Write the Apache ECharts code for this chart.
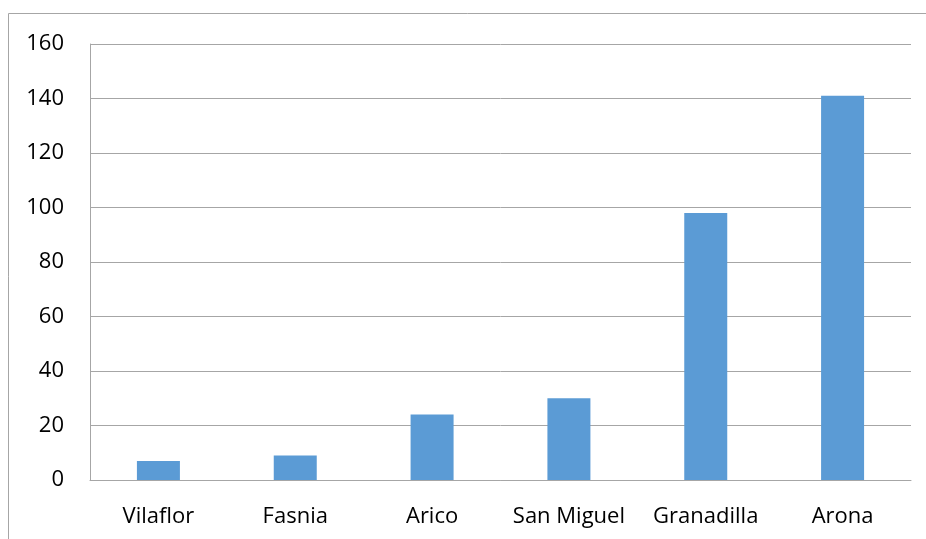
<!DOCTYPE html>
<html><head><meta charset="utf-8">
<script src="https://cdn.jsdelivr.net/npm/echarts@6/dist/echarts.min.js"></script>
<style>html,body{margin:0;padding:0;background:#fff}#c{width:926px;height:539px}</style>
</head><body><div id="c"></div>
<script>
const categories = ["Vilaflor","Fasnia","Arico","San Miguel","Granadilla","Arona"];
const values = [7, 9, 24, 30, 98, 141];
const yTicks = [0, 20, 40, 60, 80, 100, 120, 140, 160];

const chart = echarts.init(document.getElementById('c'));
chart.setOption({
  animation: false,
  graphic: [{
    type: 'rect', shape: {x: 8.5, y: 13.5, width: 1000, height: 1000},
    style: {fill: 'none', stroke: '#a6a6a6', lineWidth: 1}, silent: true
  }],
  grid: {left: 90, right: 15, top: 44, bottom: 59, containLabel: false},
  xAxis: {
    type: 'category', data: categories,
    axisLine: {show: true, lineStyle: {color: '#a6a6a6', width: 1}},
    axisTick: {show: false},
    axisLabel: {interval: 0, hideOverlap: false, color: '#000', fontSize: 22, fontFamily: 'Open Sans, Liberation Sans, sans-serif', margin: 26}
  },
  yAxis: {
    type: 'value', min: yTicks[0], max: yTicks[yTicks.length-1], interval: 20,
    axisLine: {show: true, lineStyle: {color: '#a6a6a6', width: 1}},
    axisTick: {show: false},
    splitLine: {lineStyle: {color: '#a6a6a6', width: 1}},
    axisLabel: {color: '#000', fontSize: 22, fontFamily: 'Open Sans, Liberation Sans, sans-serif', margin: 26, padding: [2, 0, 0, 0]}
  },
  series: [{
    type: 'bar', data: values, barWidth: 43,
    itemStyle: {color: '#5b9bd5'}
  }]
});
</script></body></html>
